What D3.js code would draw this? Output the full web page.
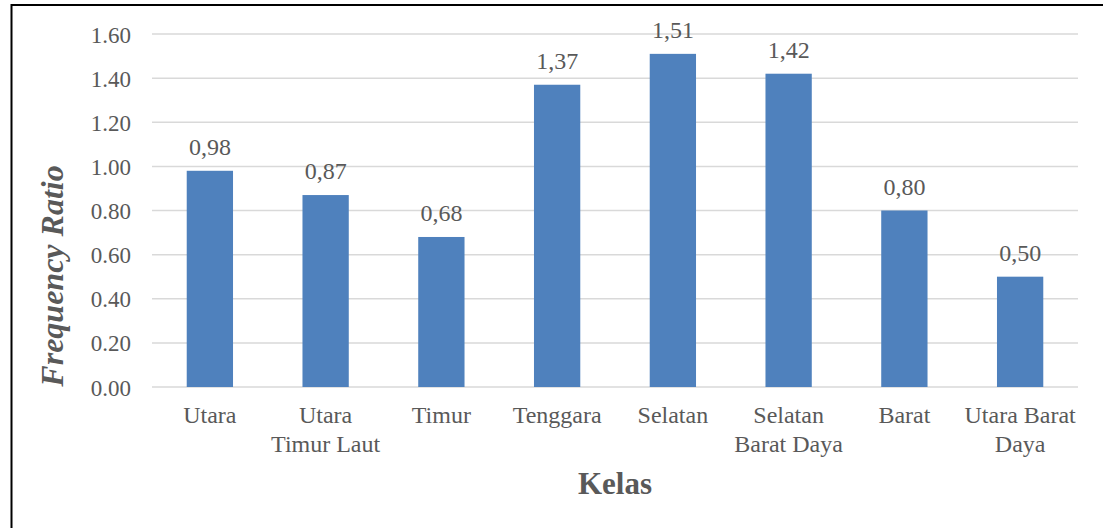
<!DOCTYPE html>
<html>
<head>
<meta charset="utf-8">
<script src="https://cdn.jsdelivr.net/npm/d3@7"></script>
<style>
  html, body { margin: 0; padding: 0; background: #fff; }
  svg { display: block; }
  text { font-family: "Liberation Serif", "Times New Roman", serif; fill: #595959; }
</style>
</head>
<body>
<svg id="chart" width="1103" height="528"></svg>
<script>
// Frequency ratio per aspect class
const categories = [
  ["Utara"],
  ["Utara", "Timur Laut"],
  ["Timur"],
  ["Tenggara"],
  ["Selatan"],
  ["Selatan", "Barat Daya"],
  ["Barat"],
  ["Utara Barat", "Daya"]
];
const values = [0.98, 0.87, 0.68, 1.37, 1.51, 1.42, 0.80, 0.50];
const yTicks = [0, 0.2, 0.4, 0.6, 0.8, 1.0, 1.2, 1.4, 1.6];
const xTitle = "Kelas";
const yTitle = "Frequency Ratio";

const svg = d3.select("#chart");
const W = 1103, H = 528;
const plot = { left: 152, right: 1078, top: 34, bottom: 387 };

// Outer frame (only top and left edges fall inside the canvas)
svg.append("rect")
  .attr("x", 11.5).attr("y", 5)
  .attr("width", W + 20).attr("height", H + 20)
  .attr("fill", "none").attr("stroke", "#000").attr("stroke-width", 2);

const x = d3.scaleBand()
  .domain(d3.range(categories.length))
  .range([plot.left, plot.right])
  .paddingInner(0.6).paddingOuter(0.3);

const y = d3.scaleLinear().domain([0, 1.6]).range([plot.bottom, plot.top]);

// Horizontal gridlines
svg.append("g").selectAll("line")
  .data(yTicks)
  .join("line")
  .attr("x1", plot.left).attr("x2", plot.right)
  .attr("y1", d => y(d)).attr("y2", d => y(d))
  .attr("stroke", "#d9d9d9").attr("stroke-width", 1.5);

// Y axis tick labels
const yAxis = d3.axisLeft(y).tickValues(yTicks).tickFormat(d3.format(".2f")).tickSize(0).tickPadding(21);
const gy = svg.append("g").attr("transform", `translate(${plot.left},0)`).call(yAxis);
gy.select(".domain").remove();
gy.selectAll("text")
  .attr("font-family", "Liberation Serif, Times New Roman, serif")
  .attr("font-size", 23).attr("fill", "#595959").attr("dy", "0.35em");

// Bars
svg.append("g").selectAll("rect")
  .data(values)
  .join("rect")
  .attr("x", (d, i) => x(i))
  .attr("y", d => y(d))
  .attr("width", x.bandwidth())
  .attr("height", d => y(0) - y(d))
  .attr("fill", "#4f81bd");

// Value labels
svg.append("g").selectAll("text")
  .data(values)
  .join("text")
  .attr("x", (d, i) => x(i) + x.bandwidth() / 2)
  .attr("y", d => y(d) - 16)
  .attr("text-anchor", "middle")
  .attr("font-size", 24)
  .text(d => d3.format(".2f")(d).replace(".", ","));

// Category labels (wrapped over two lines where needed)
const xl = svg.append("g").selectAll("text")
  .data(categories)
  .join("text")
  .attr("text-anchor", "middle")
  .attr("font-size", 24)
  .attr("x", (d, i) => x(i) + x.bandwidth() / 2)
  .attr("y", 423);
xl.selectAll("tspan")
  .data(d => d)
  .join("tspan")
  .attr("x", function () { return d3.select(this.parentNode).attr("x"); })
  .attr("dy", (d, j) => j === 0 ? 0 : 29)
  .text(d => d);

// Axis titles
svg.append("text")
  .attr("x", (plot.left + plot.right) / 2)
  .attr("y", 494)
  .attr("text-anchor", "middle")
  .attr("font-size", 31)
  .attr("font-weight", "bold")
  .text(xTitle);

svg.append("text")
  .attr("transform", "translate(63,276) rotate(-90)")
  .attr("text-anchor", "middle")
  .attr("font-size", 32)
  .attr("font-weight", "bold")
  .attr("font-style", "italic")
  .text(yTitle);
</script>
</body>
</html>
